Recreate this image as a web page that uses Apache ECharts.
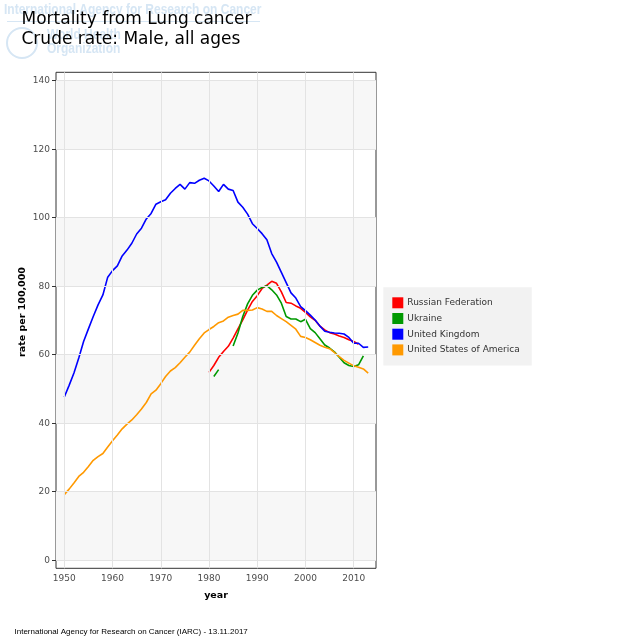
<!DOCTYPE html>
<html>
<head>
<meta charset="utf-8">
<script src="https://cdn.jsdelivr.net/npm/echarts@6/dist/echarts.min.js"></script>
<style>
html, body { margin: 0; padding: 0; background: #fff; }
#chart { width: 640px; height: 640px; }
</style>
</head>
<body>
<div id="chart"></div>
<script>
// countries shown in the legend and their colours
const countries = ['Russian Federation', 'Ukraine', 'United Kingdom', 'United States of America'];
const colors = ['#ff0000', '#009900', '#0000ff', '#ff9900'];

// rates per 100,000, one value per year from the start year
const ruStart = 1980;
const ruValues = [54.8, 56.8, 59.2, 60.9, 62.4, 64.8, 67.5, 70.1, 73.0, 75.5,
    77.2, 79.3, 80.3, 81.4, 80.8, 78.3, 75.2, 75.0, 74.2, 73.5,
    72.3, 71.0, 70.0, 68.3, 67.2, 66.4, 66.0, 65.4, 65.0, 64.3,
    63.8, 63.0];

const uaStart = 1980;
const uaValues = [null, 53.6, 55.6, null, null, 62.5, 66.3, 71.1, 74.8, 77.3,
    78.8, 79.6, 80.1, 78.9, 77.4, 75.0, 71.1, 70.4, 70.4, 69.6,
    70.3, 67.6, 66.4, 64.6, 62.8, 61.9, 60.8, 59.2, 57.6, 56.8,
    56.5, 57.0, 59.6];

const ukStart = 1950;
const ukValues = [47.6, 51.0, 54.6, 59.0, 63.8, 67.5, 71.1, 74.5, 77.4, 82.6,
    84.5, 85.9, 88.8, 90.5, 92.5, 95.2, 96.9, 99.6, 101.2, 103.9,
    104.6, 105.2, 107.1, 108.5, 109.7, 108.3, 110.2, 110.0, 110.9, 111.5,
    110.7, 109.2, 107.6, 109.7, 108.3, 107.9, 104.5, 103.0, 101.0, 98.2,
    96.8, 95.3, 93.5, 89.5, 87.0, 84.0, 81.0, 78.0, 76.5, 74.0,
    72.8, 71.5, 70.1, 68.3, 66.8, 66.5, 66.3, 66.2, 66.0, 65.0,
    63.3, 63.3, 62.1, 62.2];

const usStart = 1950;
const usValues = [19.1, 20.7, 22.5, 24.4, 25.6, 27.3, 29.1, 30.2, 31.1, 33.0,
    34.8, 36.5, 38.3, 39.7, 40.9, 42.4, 44.1, 46.0, 48.5, 49.6,
    51.5, 53.6, 55.2, 56.2, 57.6, 59.2, 60.7, 62.7, 64.6, 66.3,
    67.3, 68.2, 69.3, 69.8, 70.9, 71.4, 71.8, 72.9, 72.9, 73.0,
    73.7, 73.3, 72.6, 72.6, 71.4, 70.5, 69.6, 68.5, 67.4, 65.3,
    65.0, 64.3, 63.5, 62.7, 62.1, 61.7, 60.6, 59.4, 58.3, 57.5,
    56.7, 56.3, 55.8, 54.6];

// tick positions and shaded bands of the panel
const xTicks = [1950, 1960, 1970, 1980, 1990, 2000, 2010];
const yTicks = [0, 20, 40, 60, 80, 100, 120, 140];
const bands = [[0, 20], [40, 60], [80, 100], [120, 140]];

function pairs(start, values) {
    return values.map((v, i) => [start + i, v]);
}

const seriesData = [
    pairs(ruStart, ruValues),
    pairs(uaStart, uaValues),
    pairs(ukStart, ukValues),
    pairs(usStart, usValues)
];

const tickFont = 'DejaVu Sans';
const wmColor = '#d6e6f4';
const wmFont = 'bold 15px "Liberation Sans"';

var myChart = echarts.init(document.getElementById('chart'));

let option = {
    animation: false,
    backgroundColor: '#fff',
    color: colors,
    grid: [{
        // panel
        left: 56, top: 72.3, width: 320, height: 496,
        show: true, backgroundColor: '#fff', borderColor: '#333', borderWidth: 1
    }, {
        // tick grid (1950..2010, 0..140)
        left: 64.3, top: 80.7, width: 289.4, height: 479.5
    }],
    xAxis: [{
        gridIndex: 0, type: 'value', min: 1948.28, max: 2014.62, show: false
    }, {
        gridIndex: 1, type: 'value', min: 1950, max: 2010, interval: 10, offset: 8,
        axisLine: { show: false },
        axisTick: { show: true, length: 4, lineStyle: { color: '#333' } },
        axisLabel: { margin: 6, color: '#4d4d4d', fontSize: 9, fontFamily: tickFont,
                     formatter: v => String(v) },
        splitLine: { show: false }
    }],
    yAxis: [{
        gridIndex: 0, type: 'value', min: -2.42, max: 142.42, show: false
    }, {
        gridIndex: 1, type: 'value', min: 0, max: 140, interval: 20, offset: 8.3,
        axisLine: { show: false },
        axisTick: { show: true, length: 4, lineStyle: { color: '#333' } },
        axisLabel: { margin: 6, color: '#4d4d4d', fontSize: 9, fontFamily: tickFont },
        splitLine: { show: false }
    }],
    legend: {
        data: countries,
        orient: 'vertical',
        left: 383.3, top: 287.3,
        padding: [10, 12, 10, 9],
        backgroundColor: '#f2f2f2',
        icon: 'rect',
        itemWidth: 11, itemHeight: 11, itemGap: 4.7,
        textStyle: { fontSize: 9, color: '#333', fontFamily: tickFont, padding: [0, 0, 0, -1] },
        selectedMode: false
    },
    graphic: [
        // faint IARC / WHO watermark
        { type: 'text', x: 4, y: 2, scaleX: 0.8, z: 0, silent: true,
          style: { text: 'International Agency for Research on Cancer', fill: wmColor, font: wmFont } },
        { type: 'line', z: 0, silent: true,
          shape: { x1: 7, y1: 21.5, x2: 260, y2: 21.5 }, style: { stroke: wmColor, lineWidth: 1 } },
        { type: 'circle', z: 0, silent: true,
          shape: { cx: 22, cy: 43, r: 15 }, style: { fill: 'none', stroke: wmColor, lineWidth: 2 } },
        { type: 'text', x: 47, y: 27, scaleX: 0.8, z: 0, silent: true,
          style: { text: 'World Health', fill: wmColor, font: wmFont } },
        { type: 'text', x: 47, y: 41, scaleX: 0.8, z: 0, silent: true,
          style: { text: 'Organization', fill: wmColor, font: wmFont } },
        // titles
        { type: 'text', z: 10, silent: true,
          style: { text: 'Mortality from Lung cancer', x: 21.5, y: 20, textVerticalAlign: 'middle',
                   fill: '#000', font: '17px "DejaVu Sans"' } },
        { type: 'text', z: 10, silent: true,
          style: { text: 'Crude rate: Male, all ages', x: 21.5, y: 39.3, textVerticalAlign: 'middle',
                   fill: '#000', font: '17px "DejaVu Sans"' } },
        // axis titles
        { type: 'text', z: 10, silent: true,
          style: { text: 'year', x: 216, y: 596, textAlign: 'center', textVerticalAlign: 'middle',
                   fill: '#000', font: 'bold 9.5px "DejaVu Sans"' } },
        { type: 'text', z: 10, silent: true, x: 22.5, y: 312, rotation: Math.PI / 2,
          style: { text: 'rate per 100,000', x: 0, y: 0, textAlign: 'center', textVerticalAlign: 'middle',
                   fill: '#000', font: 'bold 9.5px "DejaVu Sans"' } },
        // footer
        { type: 'text', z: 10, silent: true,
          style: { text: 'International Agency for Research on Cancer (IARC) - 13.11.2017', x: 14.5, y: 632,
                   textVerticalAlign: 'middle', fill: '#000', font: '8px "Liberation Sans"' } }
    ],
    series: [{
        // shaded bands
        type: 'line', data: [], xAxisIndex: 0, yAxisIndex: 0, z: 1, silent: true,
        markArea: {
            silent: true,
            itemStyle: { color: '#f7f7f7' },
            data: bands.map(b => [{ yAxis: b[0] }, { yAxis: b[1] }])
        }
    }, {
        // grid lines
        type: 'line', data: [], xAxisIndex: 0, yAxisIndex: 0, z: 2, silent: true,
        markLine: {
            silent: true, symbol: 'none', label: { show: false },
            lineStyle: { color: '#e3e3e3', width: 1, type: 'solid' },
            emphasis: { disabled: true },
            data: yTicks.map(v => ({ yAxis: v })).concat(xTicks.map(v => ({ xAxis: v })))
        }
    }].concat(countries.map((name, i) => ({
        name: name,
        type: 'line',
        xAxisIndex: 0, yAxisIndex: 0,
        z: 3,
        data: seriesData[i],
        showSymbol: false,
        symbol: 'none',
        connectNulls: false,
        lineStyle: { width: 1.6, color: colors[i] },
        itemStyle: { color: colors[i] }
    })))
};

myChart.setOption(option);
</script>
</body>
</html>
